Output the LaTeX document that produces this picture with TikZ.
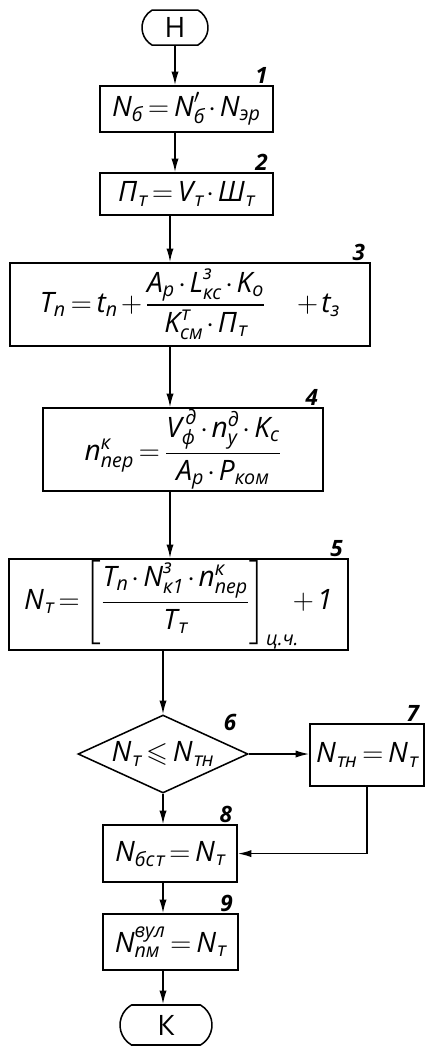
\documentclass[tikz,border=0pt]{standalone}
\usepackage{amsmath,amssymb}
\usepackage{fontspec}
\setmainfont{Open Sans}
\newfontfamily\slfont[FakeSlant=0.2]{Open Sans}
\usepackage{tikz}
\usetikzlibrary{arrows.meta, shapes.geometric, shapes.misc, positioning}

\newcommand{\hw}[1]{\text{\itshape #1}}
\newcommand{\tc}{{\slfont\upshape т}}
\medmuskip=2mu plus 1mu
\thickmuskip=3mu plus 1mu

\tikzset{
  blk/.style={draw, line width=1.1pt, inner sep=0pt, font=\fontsize{20}{24}\selectfont},
  term/.style={blk, rounded rectangle, rounded rectangle arc length=120},
  cond/.style={blk, diamond, aspect=2.2},
  arr/.style={line width=1.1pt, -{Latex[length=3.4mm, width=1.8mm]}},
  num/.style={font=\fontsize{16}{20}\selectfont\itshape\bfseries, anchor=south, xshift=-0.3cm, inner sep=1pt}
}

\begin{document}
\begin{tikzpicture}
  \useasboundingbox (0,0) rectangle (10.675,-26.225);

  % start / end
  \node[term, minimum width=1.65cm, minimum height=0.875cm] (h) at (4.375,-0.69) {Н};
  \node[term, minimum width=2.3cm, minimum height=1cm] (k) at (4.15,-25.625) {К};

  % blocks 1-5
  \node[blk, minimum width=4.325cm, minimum height=1.15cm, label={[num]north east:1}] (b1) at (4.66,-2.725)
    {$\hw{N}_{\hw{б}} = \hw{N}'_{\hw{б}}\cdot\hw{N}_{\hw{эр}}$};
  \node[blk, minimum width=4.325cm, minimum height=1.05cm, label={[num]north east:2}] (b2) at (4.66,-4.85)
    {$\hw{П}_{\hw{\tc}} = \hw{V}_{\hw{\tc}}\cdot\hw{Ш}_{\hw{\tc}}$};
  \node[blk, minimum width=9cm, minimum height=2.075cm, label={[num]north east:3}] (b3) at (4.75,-7.61)
    {$\hw{T}_{\hw{п}} = \hw{t}_{\hw{п}} + \dfrac{\hw{A}_{\hw{р}}\cdot\hw{L}^{\hw{з}}_{\hw{кс}}\cdot\hw{K}_{\hw{о}}}{\hw{K}^{\hw{\tc}}_{\hw{см}}\cdot\hw{П}_{\hw{\tc}}}\quad + \hw{t}_{\hw{з}}$};
  \node[blk, minimum width=7cm, minimum height=2.075cm, label={[num]north east:4}] (b4) at (4.575,-11.24)
    {$\hw{n}^{\hw{к}}_{\hw{пер}} = \dfrac{\hw{V}^{\,\hw{д}}_{\hw{ф}}\cdot\hw{n}^{\hw{д}}_{\hw{у}}\cdot\hw{K}_{\hw{с}}}{\hw{A}_{\hw{р}}\cdot\hw{P}_{\hw{ком}}}$};
  \node[blk, minimum width=8.475cm, minimum height=2.275cm, label={[num]north east:5}] (b5) at (4.46,-15.11)
    {$\hw{N}_{\hw{\tc}} = \left[\dfrac{\hw{T}_{\hw{п}}\cdot\hw{N}^{\hw{з}}_{\hw{к1}}\cdot\hw{n}^{\hw{к}}_{\hw{пер}}}{\hw{T}_{\hw{\tc}}}\right]_{\hw{ц.ч.}}\!\! + \hw{1}$};

  % condition and branch
  \node[cond, minimum width=4.25cm, minimum height=1.95cm] (d6) at (4.075,-18.85)
    {$\hw{N}_{\hw{\tc}} \leqslant \hw{N}_{\hw{\tc н}}$};
  \node[num, xshift=0.3cm] (n6) at (5.75,-18.3) {6};
  \node[blk, minimum width=2.85cm, minimum height=1.55cm, label={[num]north east:7}] (b7) at (9.175,-18.875)
    {$\hw{N}_{\hw{\tc н}} = \hw{N}_{\hw{\tc}}$};

  % blocks 8-9
  \node[blk, minimum width=3.35cm, minimum height=1.425cm, label={[num]north east:8}] (b8) at (4.25,-21.34)
    {$\hw{N}_{\hw{бс\tc}} = \hw{N}_{\hw{\tc}}$};
  \node[blk, minimum width=3.375cm, minimum height=1.4cm, label={[num]north east:9}] (b9) at (4.26,-23.55)
    {$\hw{N}^{\hw{вул}}_{\hw{пм}} = \hw{N}_{\hw{\tc}}$};

  % connectors
  \draw[arr] (h) -- (h |- b1.north);
  \draw[arr] (b1.south -| h) -- (b2.north -| h);
  \draw[arr] (b2.south -| b8) -- (b3.north -| b8);
  \draw[arr] (b3.south -| b8) -- (b4.north -| b8);
  \draw[arr] (b4.south -| b8) -- (b5.north -| b8);
  \draw[arr] (b5.south -| d6) -- (d6.north);
  \draw[arr] (d6.east) -- (d6.east -| b7.west);
  \draw[arr] (d6.south) -- (d6.south |- b8.north);
  \draw[arr] (b7.south) |- (b8.east);
  \draw[arr] (b8.south -| d6) -- (b9.north -| d6);
  \draw[arr] (b9.south -| d6) -- (k.north -| d6);
\end{tikzpicture}
\end{document}
